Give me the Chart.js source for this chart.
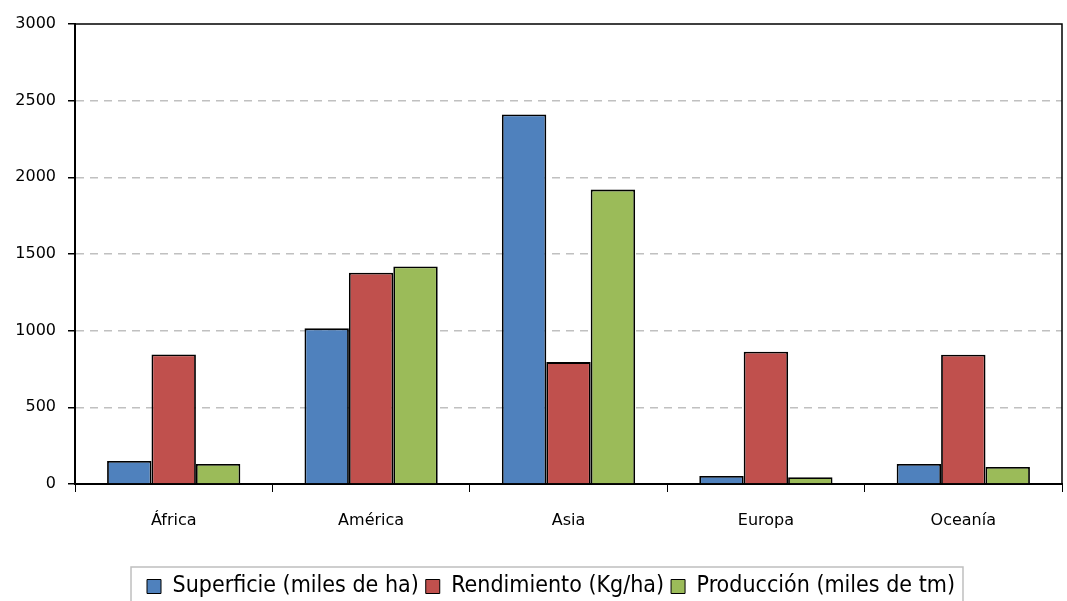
<!DOCTYPE html>
<html>
<head>
<meta charset="utf-8">
<style>
  html, body { margin: 0; padding: 0; background: #fff; }
  #wrap { width: 1067px; height: 601px; }
</style>
</head>
<body>
<div id="wrap"><canvas id="myChart"></canvas></div>
<script src="https://cdn.jsdelivr.net/npm/chart.js"></script>
<script>
const regiones = ['África', 'América', 'Asia', 'Europa', 'Oceanía'];
const superficie = [150, 1015, 2410, 52, 130];
const rendimiento = [845, 1378, 795, 863, 843];
const produccion = [130, 1418, 1920, 44, 111];
const yTicks = [0, 500, 1000, 1500, 2000, 2500, 3000];

const LEG_FONT = "'DejaVu Sans Condensed', 'DejaVu Sans', sans-serif";
const AX_FONT = "'DejaVu Sans', sans-serif";

// frame on top/right of plot area and border round the legend
const framePlugin = {
  id: 'frame',
  afterLayout(chart) {
    // legend sits a bit right of centre in the original
    if (chart.legend) { chart.legend.left += 20; chart.legend.right += 20; }
  },
  afterDraw(chart) {
    const ctx = chart.ctx;
    const a = chart.chartArea;
    ctx.save();
    ctx.strokeStyle = '#000';
    ctx.lineWidth = 1.5;
    ctx.beginPath();
    ctx.moveTo(a.left, a.top);
    ctx.lineTo(a.right, a.top);
    ctx.lineTo(a.right, a.bottom);
    ctx.stroke();
    const lg = chart.legend;
    if (lg && lg.legendHitBoxes) {
      let l = Infinity, r = -Infinity, t = Infinity;
      lg.legendHitBoxes.forEach(b => {
        l = Math.min(l, b.left); r = Math.max(r, b.left + b.width); t = Math.min(t, b.top);
      });
      ctx.strokeStyle = '#bfbfbf';
      ctx.lineWidth = 1.5;
      ctx.strokeRect(l - 16, t - 8, (r - l) + 24, 60);
    }
    ctx.restore();
  }
};

const mk = (label, data, color) => ({
  label: label,
  data: data,
  backgroundColor: color,
  borderColor: '#000',
  borderWidth: 1.8,
  borderSkipped: 'bottom',
  barPercentage: 1.0,
  categoryPercentage: 0.675
});

new Chart(document.getElementById('myChart'), {
  type: 'bar',
  data: {
    labels: regiones,
    datasets: [
      mk('Superficie (miles de ha)', superficie, '#4f81bd'),
      mk('Rendimiento (Kg/ha)', rendimiento, '#c0504d'),
      mk('Producción (miles de tm)', produccion, '#9bbb59')
    ]
  },
  options: {
    responsive: true,
    maintainAspectRatio: false,
    animation: false,
    layout: { padding: { left: 0, right: 5, top: 24, bottom: -7 } },
    plugins: {
      tooltip: { enabled: false },
      legend: {
        position: 'bottom',
        labels: {
          font: { family: LEG_FONT, size: 23 },
          color: '#000',
          boxWidth: 14,
          boxHeight: 14,
          padding: 7,
          generateLabels(chart) {
            return chart.data.datasets.map((d, i) => ({
              text: d.label,
              fillStyle: d.backgroundColor,
              strokeStyle: '#000',
              lineWidth: 1,
              hidden: false,
              datasetIndex: i,
              fontColor: '#000'
            }));
          }
        }
      }
    },
    scales: {
      x: {
        afterFit(axis) { axis.height = 84; },
        grid: {
          offset: true,
          drawOnChartArea: false,
          drawTicks: true,
          tickLength: 8,
          tickColor: '#000'
        },
        border: { color: '#000', width: 2 },
        ticks: {
          font: { family: AX_FONT, size: 16 },
          color: '#000',
          padding: 19
        }
      },
      y: {
        min: 0,
        max: 3000,
        afterFit(axis) { axis.width = 75; },
        afterBuildTicks(axis) { axis.ticks = yTicks.map(v => ({ value: v })); },
        grid: {
          color: ctx => (ctx.tick && (ctx.tick.value === 0 || ctx.tick.value === 3000)) ? 'rgba(0,0,0,0)' : '#c0c0c0',
          lineWidth: 1.5,
          tickColor: '#000',
          tickLength: 7
        },
        border: { color: '#000', width: 2, dash: [8, 6] },
        ticks: {
          font: { family: AX_FONT, size: 16 },
          color: '#000',
          padding: 12,
          callback: v => String(v)
        }
      }
    }
  },
  plugins: [framePlugin]
});
</script>
</body>
</html>
